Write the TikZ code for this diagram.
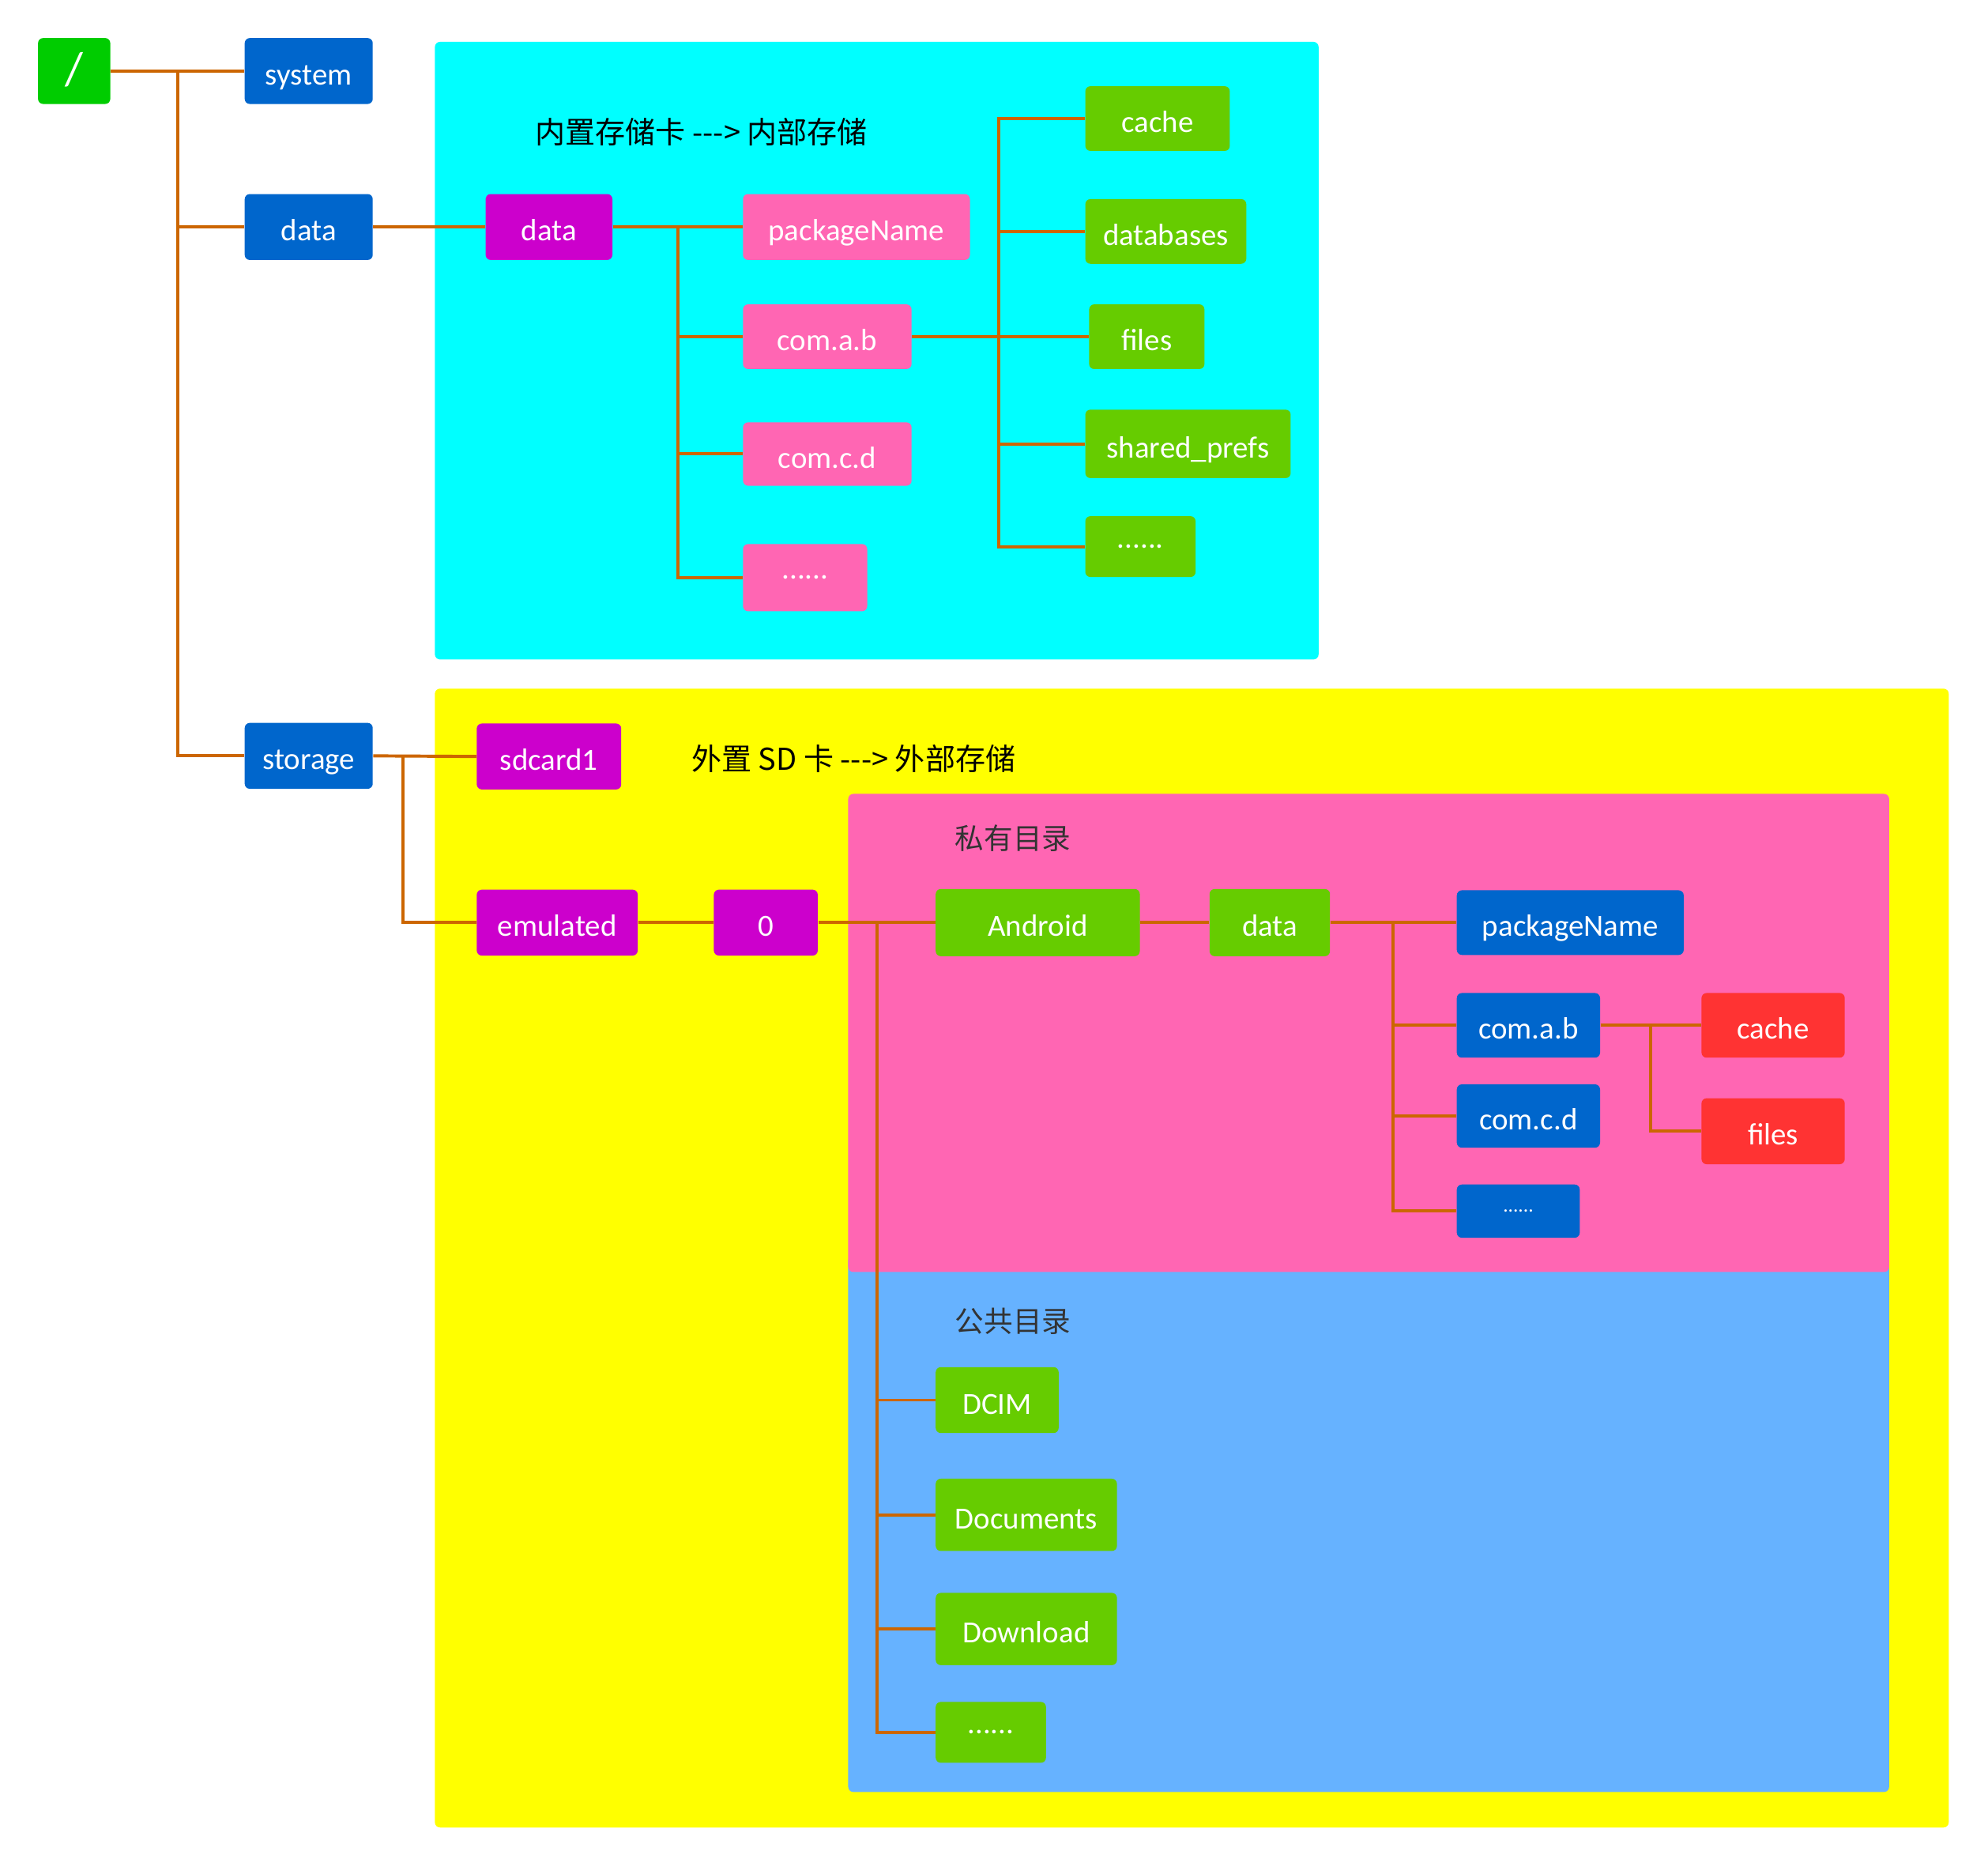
\documentclass[tikz,border=0pt]{standalone}
\usepackage{fontspec}
\setmainfont{Noto Sans CJK SC}
\newfontfamily\latinfont{Carlito}
\usetikzlibrary{calc}

\definecolor{rootgreen}{HTML}{00CC00}
\definecolor{dirblue}{HTML}{0066CC}
\definecolor{dirpurple}{HTML}{CC00CC}
\definecolor{dirpink}{HTML}{FF66B3}
\definecolor{leafgreen}{HTML}{66CC00}
\definecolor{leafred}{HTML}{FF3333}
\definecolor{publicblue}{HTML}{66B2FF}
\definecolor{innercyan}{HTML}{00FFFF}
\definecolor{outeryellow}{HTML}{FFFF00}
\definecolor{linkline}{HTML}{CC6600}

\tikzset{
  dir/.style={rounded corners=2.3pt, text=white, inner sep=0pt,
    minimum height=1.04cm, text height=13pt, text depth=0.5pt,
    font=\latinfont\fontsize{13.8}{16}\selectfont},
  dots/.style={text height=, text depth=},
  title/.style={anchor=west, inner sep=0pt, font=\fontsize{13.5}{16}\selectfont},
  link/.style={draw=linkline, line width=1.4pt},
  area/.style={rounded corners=2.3pt}
}

\begin{document}
\begin{tikzpicture}[x=0.02cm, y=-0.02cm]
  \useasboundingbox (0,0) rectangle (1568,1471);

  % storage areas
  \fill [area, fill=innercyan] (343,33) rectangle (1040,520);
  \fill [area, fill=outeryellow] (343,543) rectangle (1537,1441);
  \fill [area, fill=publicblue] (669,990) rectangle (1490,1413);
  \fill [area, fill=dirpink] (669,626) rectangle (1490,1003);

  \node [title] (ititle) at (422,104) {内置存储卡 {-}{-}{-}> 内部存储};
  \node [title] (etitle) at (545,598) {外置 SD 卡 {-}{-}{-}> 外部存储};
  \node [title, text=black!80, font=\fontsize{13}{16}\selectfont] (ptitle) at (753,661) {私有目录};
  \node [title, text=black!80, font=\fontsize{13}{16}\selectfont] (ctitle) at (753,1042) {公共目录};

  % root level
  \node [dir, fill=rootgreen, minimum width=1.14cm, font=\latinfont\fontsize{21}{24}\selectfont] (root) at (58.5,56) {/};
  \node [dir, fill=dirblue, minimum width=2.02cm] (system) at (243.5,56) {system};
  \node [dir, fill=dirblue, minimum width=2.02cm] (data) at (243.5,179) {data};
  \node [dir, fill=dirblue, minimum width=2.02cm] (storage) at (243.5,596) {storage};

  % internal
  \node [dir, fill=dirpurple, minimum width=2cm] (idata) at (433,179) {data};
  \node [dir, fill=dirpink, minimum width=3.58cm] (ipkg) at (675.5,179) {packageName};
  \node [dir, fill=dirpink, minimum width=2.66cm, minimum height=1.02cm] (icomab) at (652.5,265.5) {com.a.b};
  \node [dir, fill=dirpink, minimum width=2.66cm, minimum height=1cm] (icomcd) at (652.5,358) {com.c.d};
  \node [dir, dots, fill=dirpink, minimum width=1.96cm, minimum height=1.06cm] (idots) at (635,455.5) {......};
  \node [dir, fill=leafgreen, minimum width=2.28cm, minimum height=1.02cm] (icache) at (913,93.5) {cache};
  \node [dir, fill=leafgreen, minimum width=2.54cm, minimum height=1.02cm] (idb) at (919.5,182.5) {databases};
  \node [dir, fill=leafgreen, minimum width=1.82cm, minimum height=1.02cm] (ifiles) at (904.5,265.5) {files};
  \node [dir, fill=leafgreen, minimum width=3.24cm, minimum height=1.08cm] (iprefs) at (937,350) {shared\_prefs};
  \node [dir, dots, fill=leafgreen, minimum width=1.74cm, minimum height=0.96cm] (ileafdots) at (899.5,431) {......};

  % external
  \node [dir, fill=dirpurple, minimum width=2.28cm] (sdcard) at (433,596.5) {sdcard1};
  \node [dir, fill=dirpurple, minimum width=2.54cm] (emulated) at (439.5,727.5) {emulated};
  \node [dir, fill=dirpurple, minimum width=1.64cm] (zero) at (604,727.5) {0};
  \node [dir, fill=leafgreen, minimum width=3.22cm, minimum height=1.06cm] (android) at (818.5,727.5) {Android};
  \node [dir, fill=leafgreen, minimum width=1.9cm, minimum height=1.06cm] (edata) at (1001.5,727.5) {data};
  \node [dir, fill=dirblue, minimum width=3.58cm, minimum height=1.02cm] (epkg) at (1238.5,727.5) {packageName};
  \node [dir, fill=dirblue, minimum width=2.26cm, minimum height=1.02cm] (ecomab) at (1205.5,808.5) {com.a.b};
  \node [dir, fill=dirblue, minimum width=2.26cm, minimum height=1cm] (ecomcd) at (1205.5,880) {com.c.d};
  \node [dir, dots, fill=dirblue, minimum width=1.94cm, minimum height=0.84cm, font=\latinfont\fontsize{9}{10}\selectfont] (edots) at (1197.5,955) {......};
  \node [dir, fill=leafred, minimum width=2.26cm, minimum height=1.02cm] (ecache) at (1398.5,808.5) {cache};
  \node [dir, fill=leafred, minimum width=2.26cm] (efiles) at (1398.5,892) {files};
  \node [dir, fill=leafgreen, minimum width=1.94cm] (dcim) at (786.5,1104) {DCIM};
  \node [dir, fill=leafgreen, minimum width=2.86cm, minimum height=1.14cm] (docs) at (809.5,1194.5) {Documents};
  \node [dir, fill=leafgreen, minimum width=2.86cm, minimum height=1.14cm] (download) at (809.5,1284.5) {Download};
  \node [dir, dots, fill=leafgreen, minimum width=1.74cm, minimum height=0.96cm] (pdots) at (781.5,1366) {......};

  % junctions
  \coordinate (jroot) at (140,56);
  \coordinate (jidata) at (535,179);
  \coordinate (jicomab) at (788,265.5);
  \coordinate (jstorage) at (318,596.5);
  \coordinate (jzero) at (692,727.5);
  \coordinate (jedata) at (1099,727.5);
  \coordinate (jecomab) at (1302,808.5);

  % connectors
  \draw [link] (root) -- (system);
  \draw [link] (jroot) |- (data.west);
  \draw [link] (jroot) |- (storage.west);
  \draw [link] (data) -- (idata);
  \draw [link] (idata) -- (ipkg);
  \draw [link] (jidata) |- (icomab.west);
  \draw [link] (jidata) |- (icomcd.west);
  \draw [link] (jidata) |- (idots.west);
  \draw [link] (icomab) -- (ifiles);
  \draw [link] (jicomab) |- (icache.west);
  \draw [link] (jicomab) |- (idb.west);
  \draw [link] (jicomab) |- (iprefs.west);
  \draw [link] (jicomab) |- (ileafdots.west);
  \draw [link] (storage.east) -- (sdcard.west);
  \draw [link] (jstorage) |- (emulated.west);
  \draw [link] (emulated) -- (zero);
  \draw [link] (zero) -- (android);
  \draw [link] (jzero) |- (dcim.west);
  \draw [link] (jzero) |- (docs.west);
  \draw [link] (jzero) |- (download.west);
  \draw [link] (jzero) |- (pdots.west);
  \draw [link] (android) -- (edata);
  \draw [link] (edata) -- (epkg);
  \draw [link] (jedata) |- (ecomab.west);
  \draw [link] (jedata) |- (ecomcd.west);
  \draw [link] (jedata) |- (edots.west);
  \draw [link] (ecomab) -- (ecache);
  \draw [link] (jecomab) |- (efiles.west);
\end{tikzpicture}
\end{document}
